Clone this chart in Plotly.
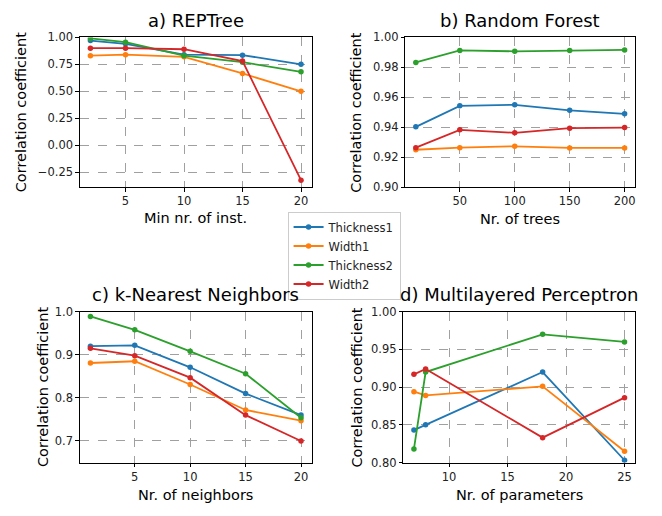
import plotly.graph_objects as go

W, H = 662, 516
OFF = 8  # page offset of the figure inside the browser window

series_names = ["Thickness1", "Width1", "Thickness2", "Width2"]
colors = ["#1f77b4", "#ff7f0e", "#2ca02c", "#d62728"]

# a) REPTree
a_x = [2, 5, 10, 15, 20]
a_thickness1 = [0.97, 0.94, 0.84, 0.835, 0.75]
a_width1 = [0.83, 0.84, 0.82, 0.665, 0.50]
a_thickness2 = [0.99, 0.955, 0.83, 0.77, 0.68]
a_width2 = [0.90, 0.90, 0.89, 0.78, -0.325]

# b) Random Forest
b_x = [10, 50, 100, 150, 200]
b_thickness1 = [0.9403, 0.9543, 0.9550, 0.9513, 0.9490]
b_width1 = [0.9250, 0.9264, 0.9273, 0.9262, 0.9262]
b_thickness2 = [0.9833, 0.9913, 0.9907, 0.9913, 0.9916]
b_width2 = [0.9264, 0.9383, 0.9363, 0.9394, 0.9398]

# c) k-Nearest Neighbors
c_x = [1, 5, 10, 15, 20]
c_thickness1 = [0.920, 0.922, 0.871, 0.810, 0.760]
c_width1 = [0.881, 0.885, 0.831, 0.772, 0.747]
c_thickness2 = [0.989, 0.958, 0.908, 0.856, 0.754]
c_width2 = [0.915, 0.898, 0.847, 0.760, 0.700]

# d) Multilayered Perceptron
d_x = [7, 8, 18, 25]
d_thickness1 = [0.843, 0.850, 0.920, 0.803]
d_width1 = [0.894, 0.889, 0.901, 0.815]
d_thickness2 = [0.818, 0.920, 0.970, 0.960]
d_width2 = [0.917, 0.924, 0.833, 0.886]


def px(sx):
    return (sx - OFF) / W


def py(sy):
    return 1 - (sy - OFF) / H


panels = [
    dict(x=a_x, ys=[a_thickness1, a_width1, a_thickness2, a_width2],
         title="a) REPTree", xlabel="Min nr. of inst.",
         xrange=[1.1, 20.9], xticks=[5, 10, 15, 20],
         yrange=[-0.39, 1.0], yticks=[-0.25, 0, 0.25, 0.5, 0.75, 1.0], yfmt=".2f",
         box=(80, 312, 31, 185), ylab_x=21, xlab_y=217),
    dict(x=b_x, ys=[b_thickness1, b_width1, b_thickness2, b_width2],
         title="b) Random Forest", xlabel="Nr. of trees",
         xrange=[0.5, 209.5], xticks=[50, 100, 150, 200],
         yrange=[0.90, 1.0], yticks=[0.90, 0.92, 0.94, 0.96, 0.98, 1.00], yfmt=".2f",
         box=(406, 636, 31, 185), ylab_x=357, xlab_y=218),
    dict(x=c_x, ys=[c_thickness1, c_width1, c_thickness2, c_width2],
         title="c) k-Nearest Neighbors", xlabel="Nr. of neighbors",
         xrange=[0.05, 20.95], xticks=[5, 10, 15, 20],
         yrange=[0.65, 1.0], yticks=[0.7, 0.8, 0.9, 1.0], yfmt=".1f",
         box=(80, 312, 313, 468), ylab_x=43, xlab_y=501),
    dict(x=d_x, ys=[d_thickness1, d_width1, d_thickness2, d_width2],
         title="d) Multilayered Perceptron", xlabel="Nr. of parameters",
         xrange=[6.1, 25.9], xticks=[10, 15, 20, 25],
         yrange=[0.80, 1.0], yticks=[0.80, 0.85, 0.90, 0.95, 1.00], yfmt=".2f",
         box=(404, 636, 313, 468), ylab_x=358, xlab_y=501),
]

FONT = "DejaVu Sans"
fig = go.Figure()
annotations = []
layout_axes = {}

for i, p in enumerate(panels):
    n = i + 1
    xa = "x" if n == 1 else f"x{n}"
    ya = "y" if n == 1 else f"y{n}"
    for name, col, yv in zip(series_names, colors, p["ys"]):
        fig.add_trace(go.Scatter(
            x=p["x"], y=yv, name=name, mode="lines+markers",
            line=dict(color=col, width=1.8), marker=dict(color=col, size=5.5),
            xaxis=xa, yaxis=ya, showlegend=(n == 1), legendgroup=name))
    x0, x1, y0, y1 = p["box"]
    common = dict(showline=True, linecolor="black", linewidth=1, mirror=True,
                  ticks="outside", ticklen=3.5, tickwidth=1, tickcolor="black",
                  showgrid=True, gridcolor="#a0a0a0", griddash="dash", gridwidth=1,
                  zeroline=False, tickfont=dict(family=FONT, size=11.5, color="#222"))
    layout_axes["xaxis" if n == 1 else f"xaxis{n}"] = dict(
        domain=[px(x0), px(x1)], anchor=ya, range=p["xrange"],
        tickmode="array", tickvals=p["xticks"], **common)
    layout_axes["yaxis" if n == 1 else f"yaxis{n}"] = dict(
        domain=[py(y1), py(y0)], anchor=xa, range=p["yrange"],
        tickmode="array", tickvals=p["yticks"], tickformat=p["yfmt"], **common)
    cx = (x0 + x1) / 2
    annotations.append(dict(text=p["title"], x=px(cx), y=py(y0 - 5),
                            xref="paper", yref="paper", xanchor="center", yanchor="bottom",
                            showarrow=False, font=dict(family=FONT, size=18, color="black")))
    annotations.append(dict(text=p["xlabel"], x=px(cx), y=py(p["xlab_y"]),
                            xref="paper", yref="paper", xanchor="center", yanchor="middle",
                            showarrow=False, font=dict(family=FONT, size=14.5, color="black")))
    annotations.append(dict(text="Correlation coefficient", x=px(p["ylab_x"]),
                            y=py((y0 + y1) / 2), textangle=-90,
                            xref="paper", yref="paper", xanchor="center", yanchor="middle",
                            showarrow=False, font=dict(family=FONT, size=14.5, color="black")))

fig.update_layout(
    width=W, height=H, margin=dict(l=0, r=0, t=0, b=0),
    paper_bgcolor="white", plot_bgcolor="white",
    annotations=annotations,
    legend=dict(x=px(288), y=py(210), xanchor="left", yanchor="top",
                bordercolor="#cccccc", borderwidth=1, bgcolor="white",
                font=dict(family=FONT, size=11.5, color="#222"),
                tracegroupgap=0, itemwidth=30),
    **layout_axes,
)

fig.write_html("out.html")
